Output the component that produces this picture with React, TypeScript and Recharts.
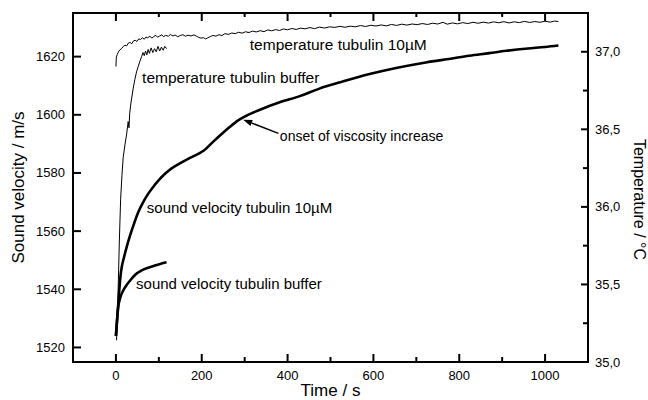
import React from "react";
import { ComposedChart, Line, XAxis, YAxis, ReferenceDot, ReferenceLine } from "recharts";

const FONT = "'Liberation Sans', Arial, Helvetica, sans-serif";

// axis ranges and ticks
const timeDomain = [-100, 1100];
const velocityDomain = [1515, 1635];
const tempDomain = [35, 37.25];
const timeTicks = [0, 100, 200, 300, 400, 500, 600, 700, 800, 900, 1000];
const velocityTicks = [1520, 1540, 1560, 1580, 1600, 1620];
const tempTicks = [35, 35.25, 35.5, 35.75, 36, 36.25, 36.5, 36.75, 37];

// [time s, sound velocity m/s], tubulin 10µM
const svTubulinPts = [
  [0, 1524], [3, 1530], [5, 1534], [8, 1540], [11, 1545], [14, 1548], [18, 1550.5], [25, 1554.5],
  [33, 1558.5], [42, 1562.5], [52, 1566.5], [63, 1569.8], [75, 1572.8], [90, 1575.8], [102, 1577.9],
  [112, 1579.4], [122, 1580.7], [135, 1582.1], [150, 1583.4], [165, 1584.6], [180, 1585.7],
  [195, 1586.8], [205, 1587.7], [225, 1590.5], [245, 1593.2], [265, 1595.8], [285, 1598.1],
  [300, 1599.4], [340, 1602], [380, 1604.2], [430, 1606.5], [474, 1609], [530, 1611.5], [591, 1614],
  [650, 1616], [722, 1618], [780, 1619.3], [823, 1620.3], [870, 1621.2], [909, 1622], [960, 1622.8],
  [1000, 1623.3], [1031, 1623.8],
];

// [time s, sound velocity m/s], tubulin buffer
const svBufferPts = [
  [0, 1524], [2, 1528], [5, 1533.5], [10, 1537], [17, 1539.6], [25, 1541.5], [33, 1543],
  [45, 1545], [60, 1546.5], [75, 1547.4], [91, 1548.2], [105, 1548.8], [118, 1549.3],
];

// [time s, temperature °C], tubulin buffer
const tBufferPts = [
  [1.5, 35.14], [5, 35.45], [8, 35.78], [11, 36.05], [14, 36.2], [17, 36.32], [21, 36.4], [25, 36.47],
  [28.5, 36.55], [30.5, 36.51], [32, 36.6], [35, 36.67], [40, 36.76], [44, 36.82], [48, 36.87],
  [52, 36.905], [56, 36.94], [60, 36.97], [63, 36.995], [66, 36.975], [69, 37.005], [72, 36.98],
  [75, 37.015], [78, 36.99], [82, 37.025], [86, 36.995], [90, 37.02], [94, 37.0], [98, 37.035],
  [102, 37.005], [106, 37.03], [110, 37.01], [114, 37.035], [118, 37.02],
];

// [time s, temperature °C], tubulin 10µM
const tTubulinPts = [
  [0, 36.905], [1, 36.965], [3, 36.982], [6, 37.0], [9, 37.012], [13, 37.02], [17, 37.034], [21, 37.042],
  [25, 37.038], [29, 37.056], [33, 37.06], [37, 37.052], [41, 37.07], [45, 37.074], [49, 37.066],
  [53, 37.083], [57, 37.079], [62, 37.09], [66, 37.081], [70, 37.095], [74, 37.09], [79, 37.1],
  [84, 37.088], [88, 37.098], [93, 37.106], [97, 37.094], [102, 37.102], [107, 37.109], [111, 37.097],
  [116, 37.106], [122, 37.1], [127, 37.111], [133, 37.102], [138, 37.108], [144, 37.097], [150, 37.105],
  [156, 37.11], [162, 37.1], [168, 37.107], [175, 37.102], [182, 37.109], [188, 37.1], [193, 37.093],
  [198, 37.088], [204, 37.091], [209, 37.083], [214, 37.09], [220, 37.098], [226, 37.105], [233, 37.101],
  [240, 37.11], [247, 37.105], [254, 37.117], [262, 37.112], [270, 37.121], [278, 37.117], [286, 37.126],
  [294, 37.12], [302, 37.129], [310, 37.124], [318, 37.133], [327, 37.128], [336, 37.136], [345, 37.13],
  [354, 37.141], [363, 37.135], [372, 37.143], [381, 37.137], [390, 37.147], [400, 37.142], [410, 37.15],
  [420, 37.144], [430, 37.152], [441, 37.148], [452, 37.156], [463, 37.149], [474, 37.159], [486, 37.153],
  [498, 37.161], [510, 37.157], [522, 37.164], [534, 37.158], [546, 37.165], [558, 37.161], [570, 37.169],
  [582, 37.163], [594, 37.171], [606, 37.166], [618, 37.173], [630, 37.167], [642, 37.176], [654, 37.17],
  [666, 37.178], [678, 37.172], [690, 37.179], [702, 37.175], [714, 37.182], [726, 37.176], [738, 37.184],
  [750, 37.179], [762, 37.19], [772, 37.178], [784, 37.186], [796, 37.18], [808, 37.188], [820, 37.182],
  [832, 37.19], [844, 37.184], [856, 37.191], [868, 37.185], [880, 37.193], [892, 37.187], [904, 37.194],
  [916, 37.186], [928, 37.193], [940, 37.188], [952, 37.196], [964, 37.189], [976, 37.195], [988, 37.19],
  [1000, 37.197], [1012, 37.191], [1022, 37.198], [1031, 37.195],
];

// annotation texts, anchored at (time, velocity) of their left baseline
const noteText = ["temperature tubulin 10µM", "temperature tubulin buffer", "onset of viscosity increase", "sound velocity tubulin 10µM", "sound velocity tubulin buffer"];
const noteT = [312, 61, 382, 72, 47];
const noteV = [1622.3, 1610.9, 1591.0, 1566.2, 1540.1];
const noteSize = [15.5, 15.5, 14, 15, 15];

// arrow from the "onset" label to the curve
const arrowT = [378.6, 296.6];
const arrowV = [1593.6, 1598.3];

const toRows = (pts: number[][]) => pts.map(([t, v]) => ({ t, v }));
const svTubulin = toRows(svTubulinPts);
const svBuffer = toRows(svBufferPts);
const tBuffer = toRows(tBufferPts);
const tTubulin = toRows(tTubulinPts);

const INK = { stroke: "#000", strokeWidth: 2 };
const isMajorTime = (t: number) => t % 200 === 0;
const isMajorTemp = (v: number) => Math.abs(v * 2 - Math.round(v * 2)) < 1e-6;
const frac = (v: number, d: number[]) => (v - d[0]) / (d[1] - d[0]);

// tick labels only; the marks are drawn together with the frame
const BottomLabel = (props: any) => {
  const { x, y, payload } = props;
  if (!isMajorTime(payload.value)) return <g />;
  return (
    <text x={x} y={y + 17.5} textAnchor="middle" fontSize={13} fontFamily={FONT} fill="#000">
      {payload.value}
    </text>
  );
};

const LeftLabel = (props: any) => {
  const { x, y, payload } = props;
  return (
    <text x={x - 8} y={y + 4.5} textAnchor="end" fontSize={13} fontFamily={FONT} fill="#000">
      {payload.value}
    </text>
  );
};

const RightLabel = (props: any) => {
  const { x, y, payload } = props;
  const v = payload.value;
  if (!isMajorTemp(v)) return <g />;
  return (
    <text x={x + 7} y={y + 4.5} textAnchor="start" fontSize={13} fontFamily={FONT} fill="#000">
      {v.toFixed(1).replace(".", ",")}
    </text>
  );
};

// horizontal frame edge with inward time marks (dir = -1 bottom, +1 top)
const timeEdge = (dir: number) => (p: any) => {
  const x0 = Math.min(p.x1, p.x2);
  const x1 = Math.max(p.x1, p.x2);
  const y = p.y1;
  return (
    <g>
      <line x1={x0 - 1} x2={x1 + 1} y1={y} y2={y} {...INK} />
      {timeTicks.map((t) => {
        const x = x0 + frac(t, timeDomain) * (x1 - x0);
        const len = isMajorTime(t) ? 8 : dir > 0 ? 4 : 5;
        return <line key={t} x1={x} x2={x} y1={y} y2={y + dir * len} {...INK} />;
      })}
    </g>
  );
};

// left frame edge with inward velocity marks
const velocityEdge = (p: any) => {
  const top = Math.min(p.y1, p.y2);
  const bot = Math.max(p.y1, p.y2);
  const x = p.x1;
  return (
    <g>
      <line x1={x} x2={x} y1={top} y2={bot} {...INK} />
      {velocityTicks.map((v) => {
        const y = bot - frac(v, velocityDomain) * (bot - top);
        return <line key={v} x1={x} x2={x + 8} y1={y} y2={y} {...INK} />;
      })}
    </g>
  );
};

// right frame edge with inward temperature marks
const tempEdge = (p: any) => {
  const top = Math.min(p.y1, p.y2);
  const bot = Math.max(p.y1, p.y2);
  const x = p.x1;
  return (
    <g>
      <line x1={x} x2={x} y1={top} y2={bot} {...INK} />
      {tempTicks.map((v) => {
        const y = bot - frac(v, tempDomain) * (bot - top);
        return <line key={v} x1={x} x2={x - (isMajorTemp(v) ? 7 : 5)} y1={y} y2={y} {...INK} />;
      })}
    </g>
  );
};

const Arrow = (props: any) => {
  const { x1, y1, x2, y2 } = props;
  const ang = Math.atan2(y2 - y1, x2 - x1);
  const len = 9;
  const w = 3.2;
  const bx = x2 - len * Math.cos(ang);
  const by = y2 - len * Math.sin(ang);
  const px = -Math.sin(ang) * w;
  const py = Math.cos(ang) * w;
  return (
    <g>
      <line x1={x1} y1={y1} x2={bx} y2={by} stroke="#000" strokeWidth={1.5} />
      <polygon points={`${x2},${y2} ${bx + px},${by + py} ${bx - px},${by - py}`} fill="#000" />
    </g>
  );
};

const noteLabel = (text: string, size: number) => (p: any) => {
  const vb = p.viewBox || {};
  return (
    <text x={vb.x} y={vb.y} textAnchor="start" fontSize={size} fontFamily={FONT} fill="#000">
      {text}
    </text>
  );
};

export default function App() {
  return (
    <div style={{ position: "absolute", left: 0, top: 0, background: "#fff" }}>
      <ComposedChart width={648} height={400} margin={{ top: 13, right: 12, bottom: 2, left: 13 }}>
        <XAxis
          dataKey="t"
          type="number"
          domain={timeDomain}
          allowDataOverflow
          ticks={timeTicks}
          interval={0}
          tickSize={0}
          tickMargin={0}
          tickLine={false}
          tick={<BottomLabel />}
          axisLine={false}
          height={36}
          label={{
            content: (p: any) => {
              const vb = p.viewBox;
              return (
                <text x={vb.x + vb.width / 2} y={vb.y + 34} textAnchor="middle" fontSize={17} fontFamily={FONT} fill="#000">
                  Time / s
                </text>
              );
            },
          }}
        />
        <YAxis
          yAxisId="v"
          type="number"
          domain={velocityDomain}
          allowDataOverflow
          ticks={velocityTicks}
          interval={0}
          tickSize={0}
          tickMargin={0}
          tickLine={false}
          tick={<LeftLabel />}
          axisLine={false}
          width={60}
          label={{
            content: (p: any) => {
              const vb = p.viewBox;
              const x = vb.x + 11;
              const y = vb.y + vb.height / 2;
              return (
                <text x={x} y={y} transform={`rotate(-90 ${x} ${y})`} textAnchor="middle" fontSize={17} fontFamily={FONT} fill="#000">
                  Sound velocity / m/s
                </text>
              );
            },
          }}
        />
        <YAxis
          yAxisId="temp"
          orientation="right"
          type="number"
          domain={tempDomain}
          allowDataOverflow
          ticks={tempTicks}
          interval={0}
          tickSize={0}
          tickMargin={0}
          tickLine={false}
          tick={<RightLabel />}
          axisLine={false}
          width={48}
          label={{
            content: (p: any) => {
              const vb = p.viewBox;
              const x = vb.x + 46;
              const y = vb.y + vb.height / 2 + 12;
              return (
                <text x={x} y={y} transform={`rotate(90 ${x} ${y})`} textAnchor="middle" fontSize={16} fontFamily={FONT} fill="#000">
                  Temperature / °C
                </text>
              );
            },
          }}
        />

        <ReferenceLine yAxisId="v" x={timeDomain[0]} ifOverflow="visible" shape={velocityEdge} />
        <ReferenceLine yAxisId="temp" x={timeDomain[1]} ifOverflow="visible" shape={tempEdge} />
        <ReferenceLine yAxisId="v" y={velocityDomain[0]} ifOverflow="visible" shape={timeEdge(-1)} />
        <ReferenceLine yAxisId="v" y={velocityDomain[1]} ifOverflow="visible" shape={timeEdge(1)} />

        <Line yAxisId="temp" data={tTubulin} dataKey="v" type="linear" stroke="#000" strokeWidth={1} dot={false} isAnimationActive={false} />
        <Line yAxisId="temp" data={tBuffer} dataKey="v" type="linear" stroke="#000" strokeWidth={1} dot={false} isAnimationActive={false} />
        <Line yAxisId="v" data={svTubulin} dataKey="v" type="monotone" stroke="#000" strokeWidth={2.6} dot={false} isAnimationActive={false} />
        <Line yAxisId="v" data={svBuffer} dataKey="v" type="monotone" stroke="#000" strokeWidth={2.6} dot={false} isAnimationActive={false} />

        <ReferenceLine
          yAxisId="v"
          segment={[
            { x: arrowT[0], y: arrowV[0] },
            { x: arrowT[1], y: arrowV[1] },
          ]}
          shape={Arrow}
        />
        {noteText.map((text, i) => (
          <ReferenceDot
            key={text}
            yAxisId="v"
            x={noteT[i]}
            y={noteV[i]}
            r={0}
            fill="none"
            stroke="none"
            label={{ content: noteLabel(text, noteSize[i]) }}
          />
        ))}
      </ComposedChart>
    </div>
  );
}
